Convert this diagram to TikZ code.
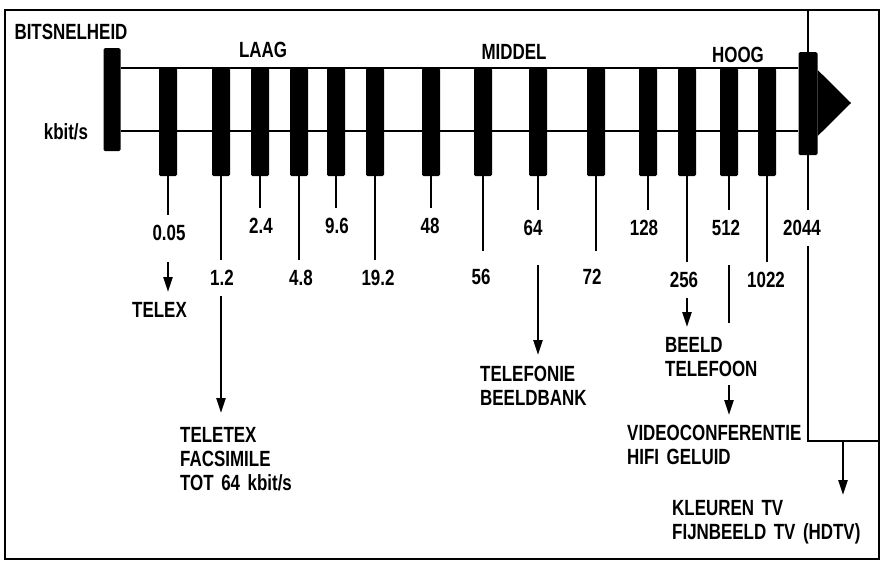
\documentclass[tikz,border=0pt]{standalone}
\usepackage{fontspec}
\setmainfont{Liberation Sans}[FakeStretch=0.77,WordSpace=1.6]
\usetikzlibrary{arrows.meta}

\newcommand{\lbl}{\fontsize{22}{24}\selectfont\bfseries}
\tikzset{
  bar/.style={fill=black,rounded corners=1.5pt,minimum width=18pt,minimum height=108pt,inner sep=0pt,anchor=north},
  rate/.style={inner xsep=0pt,inner ysep=10pt,font=\lbl},
  usage/.style={inner sep=0pt,align=left,anchor=north west,font=\lbl},
  tick/.style={line width=2.5pt},
  pointer/.style={line width=2.5pt,-{Triangle[length=15pt,width=9pt]}},
}

\begin{document}
\begin{tikzpicture}[x=1pt,y=-1pt]
      \useasboundingbox (0,0) rectangle (881,562);
      \draw[line width=2pt] (5,10) rectangle (879,559);
      % titles
      \node[font=\lbl,inner sep=0pt] (title) at (71,32) {BITSNELHEID};
      \node[font=\lbl,inner sep=0pt] (unit) at (66,132) {kbit/s};
      \node[font=\lbl,inner sep=0pt] (laag) at (263,50) {LAAG};
      \node[font=\lbl,inner sep=0pt] (middel) at (514,52) {MIDDEL};
      \node[font=\lbl,inner sep=0pt] (hoog) at (738,55) {HOOG};
      % scale
      \node[bar,minimum width=17pt,minimum height=103pt] (start) at (112,48) {};
      \node[bar,minimum width=19pt,minimum height=103pt] (big) at (808,52) {};
      \draw[tick] (start.east |- 0,68) -- (big.west |- 0,68);
      \draw[tick] (start.east |- 0,131) -- (big.west |- 0,131);
      \fill (big.east |- 0,70) -- (851,103) -- (big.east |- 0,136) -- cycle;
      \draw[line width=2pt] (808,10) -- (big.north);
      \node[bar] (b1) at (168,68) {};
      \node[bar] (b2) at (221,68) {};
      \node[bar] (b3) at (260,68) {};
      \node[bar] (b4) at (299,68) {};
      \node[bar] (b5) at (336,68) {};
      \node[bar] (b6) at (375,68) {};
      \node[bar] (b7) at (431,68) {};
      \node[bar] (b8) at (483,68) {};
      \node[bar] (b9) at (538,68) {};
      \node[bar] (b10) at (596,68) {};
      \node[bar] (b11) at (648,68) {};
      \node[bar] (b12) at (687,68) {};
      \node[bar] (b13) at (729,68) {};
      \node[bar] (b14) at (767,68) {};
      % rates
      \node[rate] (l1) at (169,233) {0.05};
      \node[rate] (l2) at (222,278) {1.2};
      \node[rate] (l3) at (261,226) {2.4};
      \node[rate] (l4) at (301,278) {4.8};
      \node[rate] (l5) at (337,226) {9.6};
      \node[rate] (l6) at (378,278) {19.2};
      \node[rate] (l7) at (430,226) {48};
      \node[rate] (l8) at (481,277) {56};
      \node[rate] (l9) at (533,228) {64};
      \node[rate] (l10) at (592,277) {72};
      \node[rate] (l11) at (644,228) {128};
      \node[rate] (l12) at (684,280) {256};
      \node[rate] (l13) at (726,228) {512};
      \node[rate] (l14) at (766,280) {1022};
      \node[rate] (l15) at (802,228) {2044};
      \draw[tick] (b1.south) -- (b1.south |- l1.north);
      \draw[tick] (b2.south) -- (b2.south |- l2.north);
      \draw[tick] (b3.south) -- (b3.south |- l3.north);
      \draw[tick] (b4.south) -- (b4.south |- l4.north);
      \draw[tick] (b5.south) -- (b5.south |- l5.north);
      \draw[tick] (b6.south) -- (b6.south |- l6.north);
      \draw[tick] (b7.south) -- (b7.south |- l7.north);
      \draw[tick,shorten >=8pt] (b8.south) -- (b8.south |- l8.north);
      \draw[tick] (b9.south) -- (b9.south |- l9.north);
      \draw[tick,shorten >=8pt] (b10.south) -- (b10.south |- l10.north);
      \draw[tick] (b11.south) -- (b11.south |- l11.north);
      \draw[tick] (b12.south) -- (b12.south |- l12.north);
      \draw[tick] (b13.south) -- (b13.south |- l13.north);
      \draw[tick] (b14.south) -- (b14.south |- l14.north);
      \draw[tick] (big.south) -- (big.south |- l15.north);
      % services
      \node[usage] (telex) at (132,302) {TELEX};
      \node[usage] (teletex) at (180,427) {TELETEX\\FACSIMILE\\TOT 64 kbit/s};
      \node[usage] (telefonie) at (480,366) {TELEFONIE\\BEELDBANK};
      \node[usage] (beeld) at (665,337) {BEELD\\TELEFOON};
      \node[usage] (video) at (627,425) {VIDEOCONFERENTIE\\HIFI GELUID};
      \node[usage] (tv) at (672,500) {KLEUREN TV\\FIJNBEELD TV (HDTV)};
      \coordinate (corner) at (808,441);
      \coordinate (hd) at (843,441);
      \draw[pointer,shorten <=11pt,shorten >=10pt] (b1.south |- l1.south) -- (b1.south |- telex.north);
      \draw[pointer,shorten >=14pt] (b2.south |- l2.south) -- (b2.south |- teletex.north);
      \draw[pointer,shorten <=19pt,shorten >=11pt] (b9.south |- l9.south) -- (b9.south |- telefonie.north);
      \draw[pointer,shorten >=10pt] (b12.south |- l12.south) -- (b12.south |- beeld.north);
      \draw[tick,shorten <=19pt,shorten >=14pt] (b13.south |- l13.south) -- (b13.south |- beeld.north);
      \draw[pointer,shorten <=8pt,shorten >=10pt] (b13.south |- beeld.south) -- (b13.south |- video.north);
      \draw[line width=2pt] (big.south |- l15.south) -- (corner) -- (879,441);
      \draw[pointer,shorten >=5pt] (hd) -- (hd |- tv.north);
    \end{tikzpicture}
\end{document}
